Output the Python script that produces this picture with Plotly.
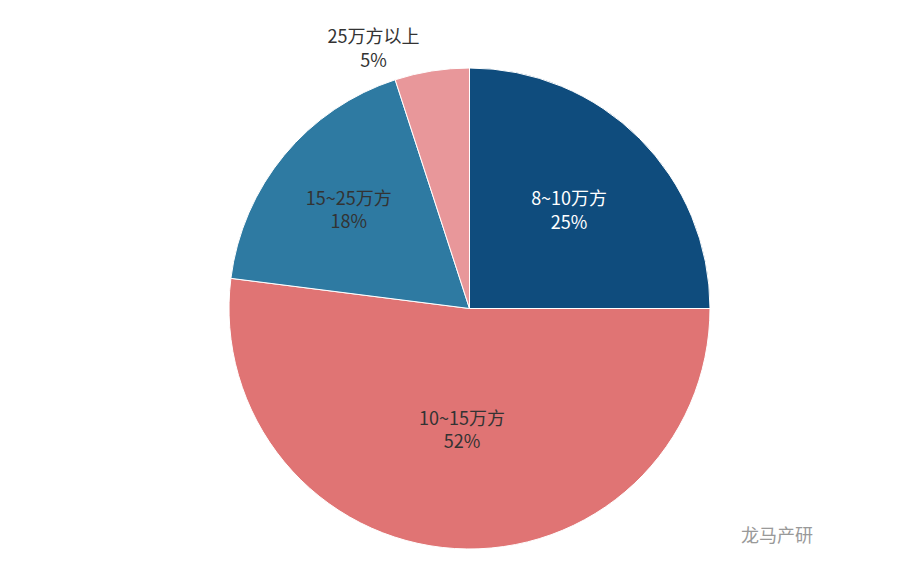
import plotly.graph_objects as go

labels = ['8~10万方', '10~15万方', '15~25万方', '25万方以上']
values = [25, 52, 18, 5]
colors = ['#0f4c7d', '#e07474', '#2e7aa2', '#e8979a']
text_colors = ['white', '#333333', '#333333', '#333333']

fig = go.Figure()
fig.add_trace(go.Pie(
    labels=labels,
    values=values,
    sort=False,
    direction='clockwise',
    rotation=0,
    marker=dict(colors=colors, line=dict(color='white', width=1)),
    texttemplate='%{label}<br>%{percent:.0%}',
    textposition=['inside', 'inside', 'inside', 'outside'],
    insidetextorientation='horizontal',
    textfont=dict(size=18, color=text_colors),
    outsidetextfont=dict(size=18, color='#333333'),
    showlegend=False,
    hole=0,
))

fig.add_annotation(
    text='龙马产研', x=1, y=0, xref='paper', yref='paper',
    xanchor='right', yanchor='bottom', showarrow=False,
    font=dict(size=18, color='#999999'),
)

fig.update_layout(
    width=923, height=561,
    margin=dict(l=20, r=20, t=60, b=20),
    paper_bgcolor='white',
    font=dict(family='Noto Sans CJK SC, sans-serif'),
)
fig.write_html('out.html')
